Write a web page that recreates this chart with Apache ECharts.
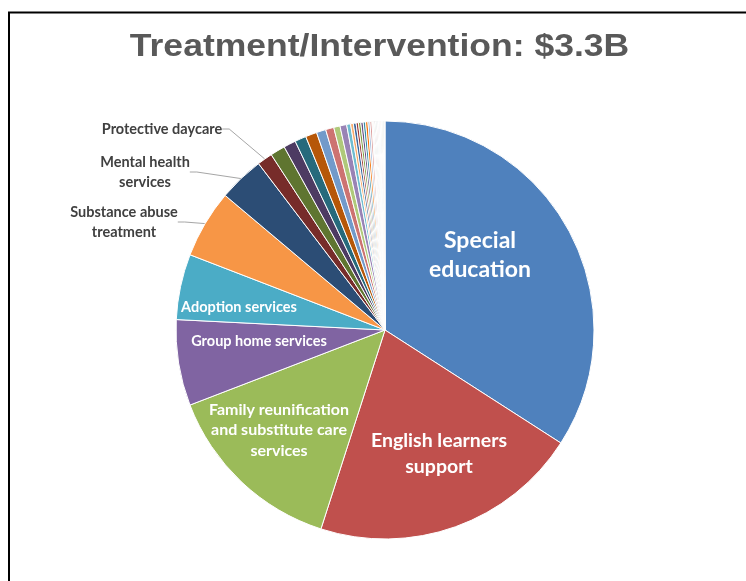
<!DOCTYPE html>
<html>
<head>
<meta charset="utf-8">
<script src="https://cdn.jsdelivr.net/npm/echarts@6/dist/echarts.min.js"></script>
<style>
  html, body { margin: 0; padding: 0; background: #ffffff; }
  #chart { width: 746px; height: 581px; }
</style>
</head>
<body>
<div id="chart"></div>
<script>
// Treatment / intervention spending by program, $ millions (total about $3.3B)
const programs = [
  'Special education',
  'English learners support',
  'Family reunification and substitute care services',
  'Group home services',
  'Adoption services',
  'Substance abuse treatment',
  'Mental health services',
  'Protective daycare'
];
const amounts = [1124, 688, 468, 219, 167, 174, 116, 39];

// Labels as they appear on the chart (line breaks included)
const labelTexts = [
  'Special\neducation',
  'English learners\nsupport',
  'Family reunification\nand substitute care\nservices',
  'Group home services',
  'Adoption services',
  'Substance abuse\ntreatment',
  'Mental health\nservices',
  'Protective daycare'
];

// The many smaller programs, unlabelled on the chart
const otherAmounts = [
  38, 31, 29, 29, 24, 21, 16, 17, 10,
  7, 7, 6, 6, 6, 6, 6, 5, 5,
  1.5, 1.5, 1.5, 1.5, 1.5, 1.5, 1.5, 1.5, 1.5, 1.5, 1.5,
  1.5, 1.5, 1.5, 1.5, 1.5, 1.5, 1.5, 1.5, 1.5, 1.5, 1.5
];

const chartTitle = 'Treatment/Intervention: $3.3B';

// Office-style palette: six accents, then darker / lighter variants of them
const baseColors = ['#4F81BD', '#C0504D', '#9BBB59', '#8064A2', '#4BACC6', '#F79646'];
const shadeSteps = [[1, 0], [0.6, 0], [0.8, 0.2], [0.8, 0], [0.6, 0.4], [0.5, 0], [0.7, 0.3], [0.7, 0], [0.5, 0.5]];

function shade(hex, mod, off) {
  let r = parseInt(hex.slice(1, 3), 16) / 255;
  let g = parseInt(hex.slice(3, 5), 16) / 255;
  let b = parseInt(hex.slice(5, 7), 16) / 255;
  const max = Math.max(r, g, b), min = Math.min(r, g, b);
  let h = 0, s = 0, l = (max + min) / 2;
  const d = max - min;
  if (d > 0) {
    s = d / (1 - Math.abs(2 * l - 1));
    if (max === r) h = ((g - b) / d) % 6;
    else if (max === g) h = (b - r) / d + 2;
    else h = (r - g) / d + 4;
    h *= 60;
    if (h < 0) h += 360;
  }
  l = Math.min(1, l * mod + off);
  const c = (1 - Math.abs(2 * l - 1)) * s;
  const x = c * (1 - Math.abs((h / 60) % 2 - 1));
  const m = l - c / 2;
  let rgb;
  if (h < 60) rgb = [c, x, 0];
  else if (h < 120) rgb = [x, c, 0];
  else if (h < 180) rgb = [0, c, x];
  else if (h < 240) rgb = [0, x, c];
  else if (h < 300) rgb = [x, 0, c];
  else rgb = [c, 0, x];
  return '#' + rgb.map(v => Math.round((v + m) * 255).toString(16).padStart(2, '0')).join('');
}

const palette = [];
shadeSteps.forEach(([mod, off]) => baseColors.forEach(c => palette.push(shade(c, mod, off))));

// Label styling and placement
const insideStyles = {
  0: { fontSize: 23, lineHeight: 29 },
  1: { fontSize: 19.5, lineHeight: 26 },
  2: { fontSize: 16, lineHeight: 20.5 },
  3: { fontSize: 14.5, lineHeight: 18 },
  4: { fontSize: 14.5, lineHeight: 18 }
};
const labelSpots = {
  0: [480, 255], 1: [439, 454], 2: [279, 430], 3: [259, 341], 4: [239, 307],
  5: [124, 222], 6: [145, 172], 7: [162, 129]
};
const labelFont = 'Lato, "Open Sans", sans-serif';

const pieData = [];
programs.forEach((name, i) => {
  const item = { name: name, value: amounts[i] };
  if (insideStyles[i]) {
    item.label = {
      show: true,
      position: 'inside',
      formatter: labelTexts[i],
      color: '#ffffff',
      fontFamily: labelFont,
      fontWeight: 'bold',
      fontSize: insideStyles[i].fontSize,
      lineHeight: insideStyles[i].lineHeight,
      align: 'center'
    };
    item.labelLine = { show: false };
  } else {
    item.label = {
      show: true,
      position: 'outside',
      formatter: labelTexts[i],
      color: '#404040',
      fontFamily: labelFont,
      fontWeight: 'bold',
      fontSize: 14.5,
      lineHeight: 20,
      align: 'center'
    };
    item.labelLine = { show: true, length: 10, length2: 7, lineStyle: { color: '#a6a6a6', width: 1 } };
  }
  pieData.push(item);
});
otherAmounts.forEach((v, i) => {
  pieData.push({
    name: 'Other program ' + (i + 1),
    value: v,
    label: { show: false },
    labelLine: { show: false }
  });
});

const chart = echarts.init(document.getElementById('chart'), null, { renderer: 'canvas' });
chart.setOption({
  animation: false,
  backgroundColor: '#ffffff',
  color: palette,
  graphic: [
    {
      type: 'rect',
      shape: { x: 9, y: 12.5, width: 900, height: 700 },
      style: { fill: 'none', stroke: '#000000', lineWidth: 2 },
      silent: true
    },
    {
      type: 'text',
      x: 379.5,
      y: 47,
      scaleX: 1.11,
      style: {
        text: chartTitle,
        font: 'bold 32px "Liberation Sans", Arial, sans-serif',
        fill: '#595959',
        align: 'center',
        verticalAlign: 'middle'
      },
      silent: true
    }
  ],
  series: [{
    type: 'pie',
    center: [385, 330],
    radius: 209,
    startAngle: 90,
    clockwise: true,
    avoidLabelOverlap: false,
    emphasis: { disabled: true },
    itemStyle: { borderColor: '#ffffff', borderWidth: 1 },
    labelLayout: function (params) {
      const spot = labelSpots[params.dataIndex];
      if (!spot) return {};
      return { x: spot[0], y: spot[1], align: 'center', verticalAlign: 'middle' };
    },
    data: pieData
  }]
});
</script>
</body>
</html>
